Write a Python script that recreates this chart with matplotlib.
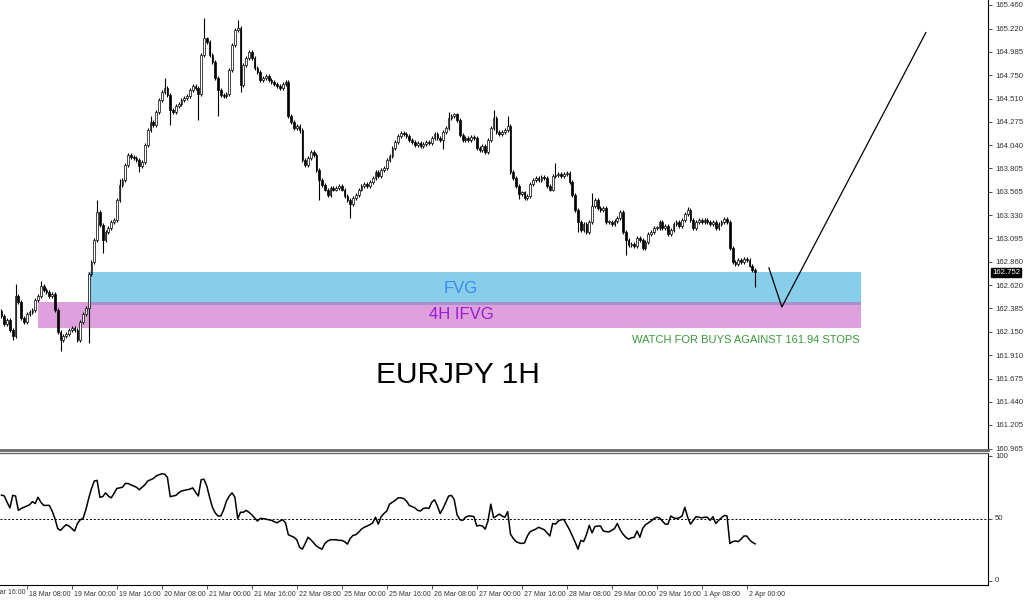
import matplotlib
matplotlib.use('Agg')
import matplotlib.pyplot as plt
import matplotlib.transforms as mtransforms

# ---------------- data ----------------
first_open = 162.36
closes = [
    162.31, 162.23, 162.27, 162.17, 162.11, 162.51, 162.45, 162.29, 162.25, 162.33,
    162.35, 162.37, 162.47, 162.51, 162.61, 162.57, 162.55, 162.51, 162.53, 162.37,
    162.15, 162.07, 162.11, 162.13, 162.17, 162.19, 162.17, 162.07, 162.25, 162.33,
    162.39, 162.73, 162.86, 163.08, 163.36, 163.23, 163.08, 163.16, 163.20, 163.26,
    163.28, 163.48, 163.64, 163.69, 163.84, 163.94, 163.92, 163.91, 163.89, 163.83,
    163.87, 164.04, 164.19, 164.27, 164.24, 164.38, 164.50, 164.58, 164.62, 164.55,
    164.40, 164.38, 164.44, 164.46, 164.50, 164.52, 164.54, 164.60, 164.64, 164.62,
    164.56, 164.95, 165.12, 165.08, 164.95, 164.88, 164.72, 164.60, 164.55, 164.54,
    164.56, 164.80, 165.05, 165.21, 165.23, 164.65, 164.85, 164.92, 164.98, 164.92,
    164.82, 164.78, 164.70, 164.72, 164.74, 164.70, 164.68, 164.66, 164.64, 164.62,
    164.66, 164.68, 164.33, 164.27, 164.21, 164.23, 164.19, 163.89, 163.84, 163.91,
    163.97, 163.94, 163.79, 163.69, 163.64, 163.59, 163.53, 163.61, 163.59, 163.61,
    163.63, 163.59, 163.52, 163.48, 163.44, 163.50, 163.53, 163.59, 163.63, 163.65,
    163.63, 163.67, 163.71, 163.77, 163.73, 163.79, 163.81, 163.89, 163.93, 164.01,
    164.07, 164.13, 164.16, 164.15, 164.13, 164.09, 164.07, 164.04, 164.06, 164.03,
    164.05, 164.07, 164.06, 164.11, 164.15, 164.11, 164.09, 164.17, 164.21, 164.31,
    164.33, 164.35, 164.29, 164.14, 164.09, 164.11, 164.09, 164.12, 164.11, 164.01,
    163.99, 164.03, 163.97, 164.09, 164.21, 164.31, 164.17, 164.15, 164.17, 164.19,
    164.23, 163.77, 163.71, 163.63, 163.54, 163.56, 163.50, 163.52, 163.65, 163.69,
    163.71, 163.69, 163.72, 163.71, 163.63, 163.59, 163.73, 163.74, 163.75, 163.73,
    163.75, 163.76, 163.67, 163.53, 163.38, 163.26, 163.18, 163.24, 163.16, 163.26,
    163.42, 163.48, 163.40, 163.38, 163.40, 163.26, 163.26, 163.24, 163.27, 163.30,
    163.36, 163.16, 163.08, 163.03, 163.04, 163.02, 163.10, 163.08, 163.00, 163.06,
    163.14, 163.16, 163.20, 163.20, 163.26, 163.20, 163.22, 163.14, 163.18, 163.24,
    163.26, 163.22, 163.28, 163.34, 163.38, 163.28, 163.20, 163.26, 163.28, 163.26,
    163.28, 163.26, 163.24, 163.26, 163.20, 163.24, 163.26, 163.29, 163.26, 163.00,
    162.86, 162.84, 162.88, 162.86, 162.89, 162.88, 162.82, 162.77, 162.752,
]
# notable wick extremes (bar index -> price)
high_marks = {5: 162.63, 14: 162.66, 34: 163.48, 58: 164.72, 72: 165.33,
              84: 165.31, 159: 164.38, 175: 164.40, 180: 164.33, 197: 163.86,
              210: 163.55, 244: 163.41, 42: 163.70, 53: 164.33}
low_marks = {4: 162.07, 21: 161.95, 31: 162.04, 36: 162.95, 49: 163.77,
             60: 164.24, 70: 164.29, 77: 164.33, 85: 164.58, 106: 164.16,
             113: 163.48, 124: 163.30, 157: 164.00, 173: 163.95, 184: 163.49,
             186: 163.48, 205: 163.16, 222: 162.93, 268: 162.60}

rsi = [
    68.7, 68.0, 63.0, 58.5, 68.5, 68.0, 56.5, 58.0, 59.0, 60.0,
    61.0, 63.5, 62.0, 67.0, 63.0, 60.5, 60.5, 60.5, 56.0, 50.0,
    42.0, 40.5, 43.0, 45.0, 44.0, 42.0, 40.0, 46.0, 49.0, 50.0,
    57.0, 66.0, 74.0, 80.0, 80.5, 67.0, 67.5, 70.5, 68.0, 66.5,
    70.0, 74.0, 74.5, 75.0, 78.0, 78.0, 77.0, 76.0, 75.0, 73.0,
    75.0, 77.0, 80.0, 81.0, 82.0, 84.0, 85.0, 85.7, 85.5, 83.0,
    67.5, 68.0, 68.5, 70.5, 72.0, 72.5, 73.0, 73.5, 74.5, 71.0,
    68.0, 81.0, 81.5, 76.0, 67.0, 59.0, 54.5, 52.0, 52.0, 57.0,
    64.0, 68.0, 70.5, 67.0, 50.0, 55.0, 55.0, 56.5, 55.0, 53.0,
    50.5, 48.0, 50.0, 50.0, 49.5, 49.0, 48.5, 47.5, 46.5, 48.0,
    49.0, 46.5, 37.0, 36.0, 35.0, 33.0, 27.0, 25.5, 30.0, 35.0,
    33.0, 30.5, 28.0, 26.5, 25.5, 30.0, 32.0, 33.0, 33.0, 33.0,
    32.5, 32.5, 31.5, 29.5, 34.0, 36.5, 37.0, 39.0, 41.5, 43.0,
    44.0, 45.0, 46.5, 51.0, 45.5, 51.5, 54.0, 56.0, 61.5, 63.0,
    64.5, 66.5, 66.5, 66.0, 64.0, 60.5, 59.5, 58.5, 56.5, 56.0,
    58.0, 58.5, 58.0, 63.0, 65.0, 60.0, 54.0, 58.0, 63.0, 68.0,
    68.5, 65.0, 53.0, 49.0, 48.5, 51.0, 52.0, 52.0, 51.5, 44.0,
    44.5, 44.0, 41.5, 48.0, 61.5, 50.5, 52.0, 53.5, 52.0, 51.0,
    55.5, 37.5, 34.0, 31.5, 30.5, 30.0, 30.5, 36.0, 39.5, 40.5,
    41.5, 43.0, 42.0, 41.0, 38.5, 36.0, 46.0, 45.5, 48.0, 49.0,
    49.2, 45.0, 41.0, 36.0, 31.0, 25.5, 32.5, 31.5, 37.0, 44.5,
    38.5, 43.5, 44.0, 44.0, 40.0, 39.5, 39.3, 40.5, 42.0, 46.0,
    41.0, 37.5, 35.0, 33.5, 34.5, 35.0, 40.0, 35.0, 42.0, 45.0,
    46.5, 48.0, 50.0, 51.0, 50.5, 48.0, 45.5, 45.5, 52.0, 50.5,
    50.0, 50.5, 52.0, 59.0, 51.0, 45.5, 48.5, 51.5, 51.0, 50.5,
    51.0, 51.0, 48.5, 51.5, 46.0, 48.5, 50.5, 52.5, 52.0, 30.0,
    31.5, 32.0, 31.5, 33.5, 36.0, 36.0, 33.0, 31.0, 29.7,
]

price_ticks = [165.460, 165.220, 164.985, 164.750, 164.510, 164.275, 164.040,
               163.805, 163.565, 163.330, 163.095, 162.860, 162.620, 162.385,
               162.150, 161.910, 161.675, 161.440, 161.205, 160.965]
time_tick_idx = [-7, 9, 25, 41, 57, 73, 89, 105, 121, 137, 153, 169, 185,
                 201, 217, 233, 249, 265]
time_tick_labels = ['17 Mar 16:00', '18 Mar 08:00', '19 Mar 00:00', '19 Mar 16:00',
                    '20 Mar 08:00', '21 Mar 00:00', '21 Mar 16:00', '22 Mar 08:00',
                    '25 Mar 00:00', '25 Mar 16:00', '26 Mar 08:00', '27 Mar 00:00',
                    '27 Mar 16:00', '28 Mar 08:00', '29 Mar 00:00', '29 Mar 16:00',
                    '1 Apr 08:00', '2 Apr 00:00']
rsi_ticks = [100, 50, 0]
last_price = 162.752

fvg_price = (162.44, 162.755)
fvg_bars = (30.8, 305.6)
ifvg_price = (162.19, 162.45)
ifvg_bars = (13.0, 305.6)
overlap_price = (162.42, 162.45)
proj_bars = [272.9, 277.5, 328.7]
proj_prices = [162.795, 162.40, 165.18]

# ---------------- figure ----------------
FONT = 'Liberation Sans'
LBL = 5.6
XLBL = 5.0
fig = plt.figure(figsize=(10.24, 6.01), dpi=100)
ax = fig.add_axes([0.0, 1 - 450 / 601, 988 / 1024, 450 / 601])
axr = fig.add_axes([0.0, 1 - 585 / 601, 988 / 1024, 132 / 601])

n = len(closes)
xs = list(range(n))
opens = [first_open] + closes[:-1]
highs = [high_marks.get(i, max(o, c) + 0.02) for i, (o, c) in enumerate(zip(opens, closes))]
lows = [low_marks.get(i, min(o, c) - 0.02) for i, (o, c) in enumerate(zip(opens, closes))]

# zones
ax.fill_between(ifvg_bars, ifvg_price[0], ifvg_price[1], color='#DDA0DD', lw=0, zorder=1)
ax.fill_between(fvg_bars, fvg_price[0], fvg_price[1], color='#87CEEB', lw=0, zorder=1)
ax.fill_between(fvg_bars, overlap_price[0], overlap_price[1], color='#A890CC', lw=0, zorder=1.1)

# candles
ax.vlines(xs, lows, highs, color='black', lw=0.8, zorder=3)
bull = [i for i in xs if closes[i] >= opens[i]]
bear = [i for i in xs if closes[i] < opens[i]]
ax.bar(bull, [max(closes[i] - opens[i], 0.006) for i in bull],
       bottom=[opens[i] for i in bull], width=0.62, color='white',
       edgecolor='black', linewidth=0.5, zorder=4)
ax.bar(bear, [max(opens[i] - closes[i], 0.006) for i in bear],
       bottom=[closes[i] for i in bear], width=0.62, color='black',
       edgecolor='black', linewidth=0.5, zorder=4)

# projection path
ax.plot(proj_bars, proj_prices, color='black', lw=0.9, zorder=5)

# texts
ax.text(163.4, 162.585, 'FVG', color='#3C8CF0', fontsize=12, family=FONT,
        ha='center', va='center', zorder=6)
ax.text(163.4, 162.32, '4H IFVG', color='#9A1ECF', fontsize=12, family=FONT,
        ha='center', va='center', zorder=6)
ax.text(305.2, 162.07, 'WATCH FOR BUYS AGAINST 161.94 STOPS', color='#3A9A3A',
        fontsize=8, family=FONT, ha='right', va='center', zorder=6)
ax.text(162.3, 161.71, 'EURJPY 1H', color='black', fontsize=21.5, family=FONT,
        ha='center', va='center', zorder=6)

xmin, xmax = -0.53, 350.8
ax.set_xlim(xmin, xmax)
ax.set_ylim(160.951, 165.51)
ax.set_xticks([])
ax.yaxis.tick_right()
ax.set_yticks(price_ticks)
ax.set_yticklabels([f'{v:.3f}' for v in price_ticks])
ax.tick_params(axis='y', direction='out', length=3, width=0.6, pad=2,
               labelsize=LBL, labelcolor='#333333', colors='#333333')
for lab in ax.get_yticklabels():
    lab.set_family(FONT)
for s in ['left', 'top']:
    ax.spines[s].set_visible(False)
ax.spines['right'].set_linewidth(0.8)
ax.spines['bottom'].set_linewidth(2.0)
ax.spines['bottom'].set_color('#6a6a6a')

# current price tag
blend = mtransforms.blended_transform_factory(ax.transAxes, ax.transData)
ax.text(1.004, last_price, f'{last_price:.3f}', transform=blend, color='white',
        fontsize=LBL, family=FONT, ha='left', va='center',
        bbox=dict(boxstyle='square,pad=0.15', fc='black', ec='black'), zorder=7,
        clip_on=False)

# ---------------- RSI panel ----------------
axr.plot(xs, rsi, color='black', lw=1.1)
axr.axhline(50, color='black', lw=0.7, ls=(0, (2, 2)))
axr.set_xlim(xmin, xmax)
axr.set_ylim(-3.2, 102.4)
axr.yaxis.tick_right()
axr.set_yticks(rsi_ticks)
axr.set_yticklabels([str(v) for v in rsi_ticks])
axr.tick_params(axis='y', direction='out', length=3, width=0.6, pad=2,
                labelsize=LBL, labelcolor='#333333', colors='#333333')
for lab in axr.get_yticklabels():
    lab.set_family(FONT)
    lab.set_verticalalignment('center')

vis_idx = [i for i in time_tick_idx if xmin <= i <= xmax]
vis_lab = [l for i, l in zip(time_tick_idx, time_tick_labels) if xmin <= i <= xmax]
axr.set_xticks(vis_idx)
axr.set_xticklabels(vis_lab)
axr.tick_params(axis='x', direction='out', length=3, width=0.6, pad=1,
                labelsize=XLBL, labelcolor='#333333', colors='#333333')
offset = mtransforms.ScaledTranslation(2 / 100, 0, fig.dpi_scale_trans)
for lab in axr.get_xticklabels():
    lab.set_family(FONT)
    lab.set_horizontalalignment('left')
    lab.set_transform(lab.get_transform() + offset)
# partially visible first label at the left edge (cut off as in the source)
xb = mtransforms.blended_transform_factory(axr.transData, axr.transAxes)
for i, l in zip(time_tick_idx, time_tick_labels):
    if i < xmin:
        axr.text(i, -0.03, l, transform=xb + offset, fontsize=XLBL, family=FONT,
                 color='#333333', ha='left', va='top', clip_on=False)

axr.spines['left'].set_visible(False)
axr.spines['top'].set_color('#6a6a6a')
axr.spines['top'].set_linewidth(1.0)
axr.spines['right'].set_linewidth(0.8)
axr.spines['bottom'].set_linewidth(0.8)

fig.savefig('out.png', dpi=100)
